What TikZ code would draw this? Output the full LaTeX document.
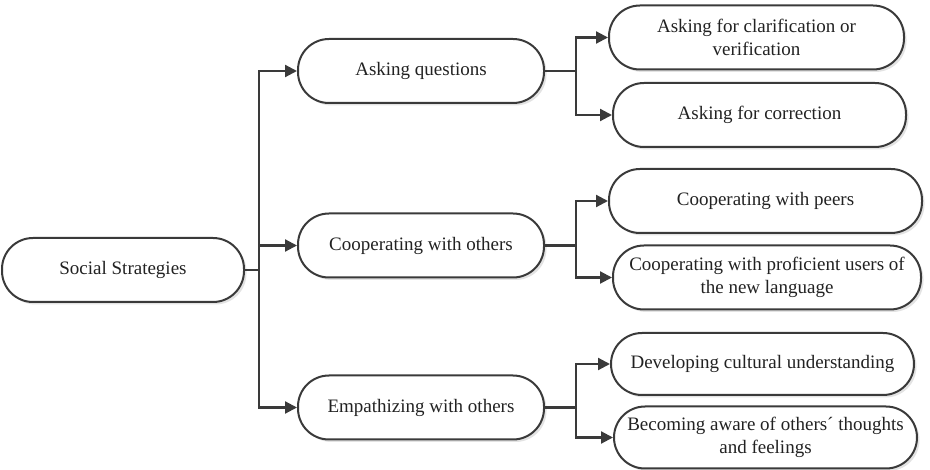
\documentclass[tikz,border=0pt]{standalone}
\usepackage{fontspec}
\setmainfont{Liberation Serif}
\usetikzlibrary{arrows.meta,shadows}
\definecolor{edgegray}{HTML}{3A3A3A}
\definecolor{txt}{HTML}{222222}
\tikzset{
  pill/.style={draw=edgegray, line width=2pt, fill=white, rounded corners=31pt,
    minimum height=#1, inner sep=0pt, align=center, text=txt,
    font=\fontsize{19}{23}\selectfont,
    drop shadow={opacity=0.22, shadow xshift=2.5pt, shadow yshift=-2.5pt, fill=gray}},
  pill/.default=64pt,
  conn/.style={draw=edgegray, line width=2.2pt, -{Triangle[length=12pt,width=12pt]}},
}
\begin{document}
\begin{tikzpicture}[x=1pt,y=-1pt]
\useasboundingbox (0,0) rectangle (930,470);
% level 0
\node[pill, minimum width=242pt] (soc) at (123,270) {Social Strategies};
% level 1
\node[pill, minimum width=246pt] (q) at (421,71) {Asking questions};
\node[pill, minimum width=246pt] (c) at (421,245.5) {Cooperating with others};
\node[pill, minimum width=246pt] (e) at (421,407.5) {Empathizing with others};
% level 2
\node[pill, minimum width=295pt] (clar) at (756.5,37.5) {Asking for clarification or\\verification};
\node[pill, minimum width=293pt] (corr) at (759.5,115) {Asking for correction};
\node[pill, minimum width=313pt] (peer) at (765.5,201) {Cooperating with peers};
\node[pill, minimum width=308pt] (prof) at (767,277.5) {Cooperating with proficient users of\\the new language};
\node[pill=62pt, minimum width=303pt] (dev) at (762.5,364) {Developing cultural understanding};
\node[pill=62pt, minimum width=303pt] (beco) at (765.5,437.5) {Becoming aware of others\textasciiacute{} thoughts\\and feelings};
% connectors
\coordinate (b0) at (259,270);
\draw[conn] (soc.east) -- (b0) |- (q.west);
\draw[conn] (b0) |- (c.west);
\draw[conn] (b0) |- (e.west);
\coordinate (b1) at (576,71);
\coordinate (b2) at (576,245.5);
\coordinate (b3) at (576,407.5);
\draw[conn] (q.east) -- (b1) |- (clar.west);
\draw[conn] (b1) |- (corr.west);
\draw[conn] (c.east) -- (b2) |- (peer.west);
\draw[conn] (b2) |- (prof.west);
\draw[conn] (e.east) -- (b3) |- (dev.west);
\draw[conn] (b3) |- (beco.west);
\end{tikzpicture}
\end{document}
